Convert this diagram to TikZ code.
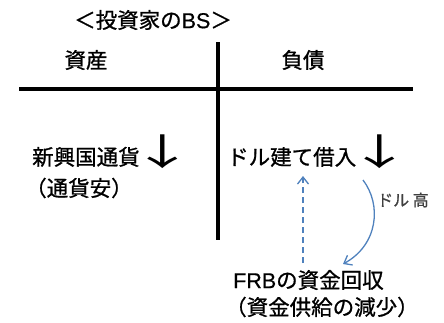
\documentclass[tikz,border=0pt]{standalone}
\usepackage{fontspec}
\usepackage{graphicx}
\setmainfont{Noto Sans CJK JP}[FakeBold=0.9]
\newfontfamily\latinfont{Liberation Sans}[FakeBold=0.5]
\newfontfamily\arrowfont{Noto Sans CJK JP}
\usetikzlibrary{arrows.meta}
\definecolor{arrowblue}{RGB}{79,129,189}
\definecolor{labelgray}{RGB}{64,64,64}
\newcommand{\bigdown}{\hspace{-9pt}\scalebox{3.0}[1.7]{\arrowfont\fontsize{21.5}{22}\selectfont ↓}}
\newcommand{\lat}[1]{{\latinfont #1}}
\tikzset{
  txt/.style={inner sep=0pt, font=\fontsize{21.5}{24}\selectfont},
  small/.style={inner sep=0pt, text=labelgray, font=\fontsize{16}{18}\selectfont},
  rule/.style={line width=4pt},
  bluearrow/.style={arrowblue, line width=1.3pt, -{Straight Barb[length=7pt,width=11pt]}}
}
\begin{document}
\begin{tikzpicture}[x=1pt,y=-1pt]
\useasboundingbox (0,0) rectangle (444,322);
\node[txt, anchor=west] (title) at (74,20) {＜投資家の\lat{BS}＞};
\node[txt] (assets) at (86,60) {資産};
\node[txt] (liab) at (303,60) {負債};
\coordinate (vtop) at (218,42);
\coordinate (vbot) at (218,240);
\coordinate (hl) at (19,89);
\coordinate (hr) at (413,89);
\draw[rule] (vtop) -- (vbot);
\draw[rule] (hl) -- (hr);
\node[txt, anchor=base west] (em) at (32,165) {新興国通貨\bigdown};
\node[txt, anchor=west] (emsub) at (25,188) {（通貨安）};
\node[txt, anchor=base west] (usd) at (227,165) {ドル建て借入\bigdown};
\node[small, anchor=west] (dh) at (377,200) {ドル 高};
\node[txt, anchor=west] (frb) at (233,280) {\lat{FRB}の資金回収};
\node[txt, anchor=west] (frbsub) at (225,307) {（資金供給の減少）};
\coordinate (ds) at (303,263);
\coordinate (de) at (303,176);
\draw[bluearrow, dash pattern=on 6pt off 4pt] (ds) -- (de);
\coordinate (cs) at (363,180);
\coordinate (ce) at (343,264);
\draw[bluearrow] (cs) .. controls (382,205) and (378,245) .. (ce);
\end{tikzpicture}
\end{document}
